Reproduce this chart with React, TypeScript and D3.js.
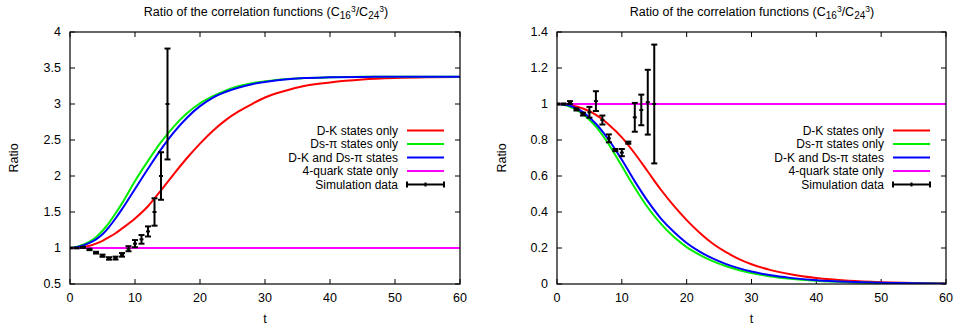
import React, { useEffect, useRef } from 'react';
import * as d3 from 'd3';

// simulation data (t = 0..15)
const simT = [0, 1, 2, 3, 4, 5, 6, 7, 8, 9, 10, 11, 12, 13, 14, 15];
const leftSim = [1.0, 1.0, 1.01, 0.98, 0.935, 0.893, 0.855, 0.86, 0.905, 0.99, 1.06, 1.12, 1.23, 1.5, 2.0, 3.0];
const leftErr = [0.005, 0.005, 0.008, 0.01, 0.012, 0.015, 0.017, 0.02, 0.025, 0.035, 0.05, 0.06, 0.07, 0.19, 0.33, 0.77];
const rightSim = [1.0, 1.0, 1.008, 0.97, 0.944, 0.954, 1.016, 0.911, 0.809, 0.744, 0.73, 0.785, 0.926, 0.967, 1.01, 1.0];
const rightErr = [0.003, 0.003, 0.008, 0.006, 0.008, 0.03, 0.055, 0.025, 0.022, 0.006, 0.02, 0.006, 0.08, 0.085, 0.18, 0.33];

// model curves, read at these t values
const curveT = [0, 1, 2, 3, 4, 5, 6, 7, 8, 10, 12, 14, 16, 18, 20, 22, 24, 26, 28, 30, 33, 36, 40, 45, 50, 55, 60];
const leftDK = [1, 1.003, 1.012, 1.03, 1.06, 1.1, 1.15, 1.205, 1.27, 1.41, 1.58, 1.8, 2.03, 2.25, 2.45, 2.63, 2.78, 2.9, 3.0, 3.09, 3.18, 3.25, 3.3, 3.34, 3.36, 3.37, 3.375];
const leftDsPi = [1, 1.015, 1.045, 1.09, 1.15, 1.24, 1.35, 1.48, 1.62, 1.93, 2.21, 2.47, 2.69, 2.87, 3.01, 3.11, 3.19, 3.25, 3.29, 3.315, 3.345, 3.36, 3.37, 3.377, 3.378, 3.379, 3.38];
const leftBoth = [1, 1.01, 1.035, 1.07, 1.12, 1.19, 1.29, 1.41, 1.54, 1.82, 2.1, 2.37, 2.61, 2.81, 2.97, 3.09, 3.17, 3.23, 3.275, 3.305, 3.34, 3.36, 3.37, 3.376, 3.378, 3.379, 3.38];
const rightDK = [1, 0.999, 0.995, 0.987, 0.975, 0.96, 0.94, 0.915, 0.885, 0.815, 0.725, 0.625, 0.525, 0.435, 0.355, 0.285, 0.225, 0.178, 0.14, 0.11, 0.077, 0.054, 0.033, 0.018, 0.01, 0.006, 0.004];
const rightDsPi = [1, 0.996, 0.985, 0.968, 0.945, 0.913, 0.875, 0.828, 0.775, 0.655, 0.535, 0.425, 0.335, 0.262, 0.205, 0.162, 0.127, 0.1, 0.078, 0.061, 0.042, 0.029, 0.018, 0.01, 0.006, 0.003, 0.002];
const rightBoth = [1, 0.997, 0.99, 0.975, 0.955, 0.925, 0.89, 0.848, 0.8, 0.69, 0.57, 0.46, 0.365, 0.29, 0.228, 0.18, 0.142, 0.112, 0.088, 0.069, 0.048, 0.034, 0.021, 0.012, 0.007, 0.004, 0.002];
const fourQuark = [1, 1];

const xTicks = [0, 10, 20, 30, 40, 50, 60];
const leftYTicks = [0.5, 1, 1.5, 2, 2.5, 3, 3.5, 4];
const rightYTicks = [0, 0.2, 0.4, 0.6, 0.8, 1, 1.2, 1.4];
const legendLabels = ["D-K states only", "Ds-\u03c0 states only", "D-K and Ds-\u03c0 states", "4-quark state only", "Simulation data"];
const colors = ["#ff0000", "#00ee00", "#0000ff", "#ff00ff"];

const W = 955;
const H = 331;
const font = "'Liberation Sans', Arial, sans-serif";

interface Panel {
  left: number;
  right: number;
  yDomain: [number, number];
  yTicks: number[];
  curves: number[][];
  sim: number[];
  err: number[];
  titleX: number;
  ylabelX: number;
}

const panels: Panel[] = [
  { left: 70, right: 460, yDomain: [0.5, 4], yTicks: leftYTicks, curves: [leftDK, leftDsPi, leftBoth], sim: leftSim, err: leftErr, titleX: 266, ylabelX: 18 },
  { left: 557, right: 946, yDomain: [0, 1.4], yTicks: rightYTicks, curves: [rightDK, rightDsPi, rightBoth], sim: rightSim, err: rightErr, titleX: 752, ylabelX: 506 },
];

export default function App() {
  const svgRef = useRef<SVGSVGElement>(null);

  useEffect(() => {
    if (!svgRef.current) return;
    const svg = d3.select(svgRef.current);
    svg.selectAll("*").remove();
    svg.append("rect").attr("width", W).attr("height", H).attr("fill", "#fff");

    const top = 32, bottom = 284;

    panels.forEach((p, pi) => {
      const x = d3.scaleLinear().domain([0, 60]).range([p.left, p.right]);
      const y = d3.scaleLinear().domain(p.yDomain).range([bottom, top]);
      const g = svg.append("g");

      // title with sub/superscripts
      const title = g.append("text").attr("x", p.titleX).attr("y", 16).attr("text-anchor", "middle")
        .style("font-family", font).style("font-size", "12.5px").attr("fill", "#000");
      title.append("tspan").text("Ratio of the correlation functions (C");
      title.append("tspan").attr("dy", 3).style("font-size", "10px").text("16");
      title.append("tspan").attr("dy", -7).style("font-size", "8.5px").text("3");
      title.append("tspan").attr("dy", 4).text("/C");
      title.append("tspan").attr("dy", 3).style("font-size", "10px").text("24");
      title.append("tspan").attr("dy", -7).style("font-size", "8.5px").text("3");
      title.append("tspan").attr("dy", 4).text(")");

      const clipId = `clip${pi}`;
      svg.append("clipPath").attr("id", clipId).append("rect")
        .attr("x", p.left).attr("y", top).attr("width", p.right - p.left).attr("height", bottom - top);

      // ticks (mirrored, inward)
      const tk = g.append("g").attr("stroke", "#000").attr("stroke-width", 1);
      xTicks.forEach(t => {
        tk.append("line").attr("x1", x(t)).attr("x2", x(t)).attr("y1", bottom).attr("y2", bottom - 5);
        tk.append("line").attr("x1", x(t)).attr("x2", x(t)).attr("y1", top).attr("y2", top + 5);
        g.append("text").attr("x", x(t)).attr("y", bottom + 18).attr("text-anchor", "middle")
          .style("font-family", font).style("font-size", "12.5px").text(String(t));
      });
      p.yTicks.forEach(v => {
        tk.append("line").attr("x1", p.left).attr("x2", p.left + 5).attr("y1", y(v)).attr("y2", y(v));
        tk.append("line").attr("x1", p.right).attr("x2", p.right - 5).attr("y1", y(v)).attr("y2", y(v));
        g.append("text").attr("x", p.left - 9).attr("y", y(v) + 4).attr("text-anchor", "end")
          .style("font-family", font).style("font-size", "12.5px").text(String(v));
      });

      g.append("text").attr("x", (p.left + p.right) / 2).attr("y", 323).attr("text-anchor", "middle")
        .style("font-family", font).style("font-size", "12.5px").text("t");
      g.append("text").attr("transform", `translate(${p.ylabelX},${(top + bottom) / 2}) rotate(-90)`)
        .attr("text-anchor", "middle").style("font-family", font).style("font-size", "12.5px").text("Ratio");

      const plot = g.append("g").attr("clip-path", `url(#${clipId})`);
      const line = d3.line<number>().x((_, i) => x(curveT[i])).y(d => y(d)).curve(d3.curveMonotoneX);
      p.curves.forEach((c, i) => {
        plot.append("path").attr("d", line(c)).attr("fill", "none").attr("stroke", colors[i]).attr("stroke-width", 2);
      });
      plot.append("line").attr("x1", x(0)).attr("x2", x(60)).attr("y1", y(fourQuark[0])).attr("y2", y(fourQuark[1]))
        .attr("stroke", colors[3]).attr("stroke-width", 2);

      // simulation data with error bars
      const sim = plot.append("g").attr("stroke", "#000").attr("stroke-width", 2);
      simT.forEach((t, i) => {
        const cx = x(t), lo = y(p.sim[i] - p.err[i]), hi = y(p.sim[i] + p.err[i]);
        sim.append("line").attr("x1", cx).attr("x2", cx).attr("y1", lo).attr("y2", hi);
        sim.append("line").attr("x1", cx - 3).attr("x2", cx + 3).attr("y1", lo).attr("y2", lo);
        sim.append("line").attr("x1", cx - 3).attr("x2", cx + 3).attr("y1", hi).attr("y2", hi);
        sim.append("line").attr("x1", cx - 2).attr("x2", cx + 2).attr("y1", y(p.sim[i])).attr("y2", y(p.sim[i]));
      });

      // frame
      g.append("rect").attr("x", p.left).attr("y", top).attr("width", p.right - p.left).attr("height", bottom - top)
        .attr("fill", "none").attr("stroke", "#000").attr("stroke-width", 1.2);

      // legend
      const textX = pi === 0 ? 398 : 884;
      const lx1 = textX + 9, lx2 = textX + 46;
      const rows = [130.5, 144, 157.5, 171, 184.5];
      legendLabels.forEach((lab, i) => {
        g.append("text").attr("x", textX).attr("y", rows[i] + 4.3).attr("text-anchor", "end")
          .style("font-family", font).style("font-size", "12px").text(lab);
        if (i < 4) {
          g.append("line").attr("x1", lx1).attr("x2", lx2).attr("y1", rows[i]).attr("y2", rows[i])
            .attr("stroke", colors[i]).attr("stroke-width", 2);
        } else {
          const lg = g.append("g").attr("stroke", "#000").attr("stroke-width", 2);
          lg.append("line").attr("x1", lx1).attr("x2", lx2).attr("y1", rows[i]).attr("y2", rows[i]);
          [lx1, lx2].forEach(xx => lg.append("line").attr("x1", xx).attr("x2", xx).attr("y1", rows[i] - 3).attr("y2", rows[i] + 3));
          lg.append("line").attr("x1", (lx1 + lx2) / 2).attr("x2", (lx1 + lx2) / 2).attr("y1", rows[i] - 2).attr("y2", rows[i] + 2);
        }
      });
    });
  }, []);

  return (
    <svg ref={svgRef} width={W} height={H} viewBox={`0 0 ${W} ${H}`}
      style={{ position: "absolute", left: 0, top: 0, display: "block" }} />
  );
}
